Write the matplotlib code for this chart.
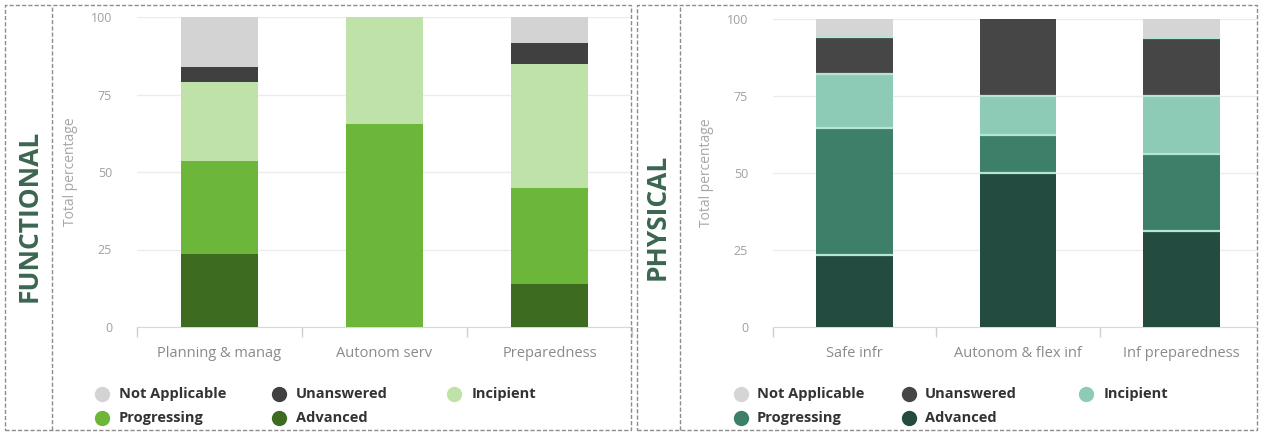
import matplotlib
matplotlib.use("Agg")
import matplotlib.pyplot as plt
from matplotlib.lines import Line2D
from matplotlib.patches import Rectangle

plt.rcParams['font.family'] = ['Open Sans', 'DejaVu Sans']

# ---------------- data ----------------
levels = ["Advanced", "Progressing", "Incipient", "Unanswered", "Not Applicable"]

func_categories = ["Planning & manag", "Autonom serv", "Preparedness"]
func_advanced = [23.5, 0, 14]
func_progressing = [30, 65.5, 31]
func_incipient = [25.5, 34.5, 40]
func_unanswered = [5, 0, 6.5]
func_not_applicable = [16, 0, 8.5]

phys_categories = ["Safe infr", "Autonom & flex inf", "Inf preparedness"]
phys_advanced = [23.5, 50, 31.25]
phys_progressing = [41.2, 12.5, 25]
phys_incipient = [17.6, 12.5, 18.75]
phys_unanswered = [11.8, 25, 18.75]
phys_not_applicable = [5.9, 0, 6.25]

func_colors = {"Advanced": "#3d6b20", "Progressing": "#6cb63a", "Incipient": "#bfe2a8",
               "Unanswered": "#404040", "Not Applicable": "#d3d3d3"}
phys_colors = {"Advanced": "#244b40", "Progressing": "#3d7f69", "Incipient": "#8ecbb6",
               "Unanswered": "#464646", "Not Applicable": "#d5d5d5"}

W, H = 1261, 432
BAR_W = 0.47
fig = plt.figure(figsize=(W / 100, H / 100), dpi=100)


def px_box(x0, y0, x1, y1):
    # pixel coords (top-left origin) -> figure fraction rect
    return [x0 / W, 1 - y1 / H, (x1 - x0) / W, (y1 - y0) / H]


def stacked(ax, cats, series, colors, sep=None):
    x = list(range(len(cats)))
    bottom = [0] * len(cats)
    for name, vals in zip(levels, series):
        ax.bar(x, vals, bottom=bottom, width=BAR_W, color=colors[name],
               linewidth=0, zorder=3)
        if sep is not None and name != levels[0]:
            # thin line between stacked segments
            for xi, b, v in zip(x, bottom, vals):
                if v > 0 and b > 0:
                    ax.hlines(b, xi - BAR_W / 2, xi + BAR_W / 2, color=sep,
                              linewidth=1.6, zorder=4)
        bottom = [b + v for b, v in zip(bottom, vals)]
    ax.set_ylim(0, 100)
    ax.set_yticks([0, 25, 50, 75, 100])
    ax.set_xticks(x)
    ax.set_xticklabels(cats, fontsize=10.5, color="#8a8a8a")
    ax.set_xticks([-0.5, 0.5, 1.5, 2.5], minor=True)
    ax.tick_params(axis="x", which="major", length=0, pad=14)
    ax.tick_params(axis="x", which="minor", length=7, color="#cfcfcf", width=1)
    ax.tick_params(axis="y", length=0, pad=18, labelsize=9, labelcolor="#a0a0a0")
    ax.grid(axis="y", color="#ececec", linewidth=1, zorder=0)
    for s in ["top", "right", "left"]:
        ax.spines[s].set_visible(False)
    ax.spines["bottom"].set_color("#d8d8d8")
    ax.set_ylabel("Total percentage", fontsize=10, color="#a6a6a6", labelpad=9)


ax1 = fig.add_axes(px_box(137, 17, 632, 327))
stacked(ax1, func_categories,
        [func_advanced, func_progressing, func_incipient, func_unanswered, func_not_applicable],
        func_colors)
ax1.set_xlim(-0.5, 2.5)

ax2 = fig.add_axes(px_box(773, 19, 1256, 327))
stacked(ax2, phys_categories,
        [phys_advanced, phys_progressing, phys_incipient, phys_unanswered, phys_not_applicable],
        phys_colors, sep="#b3e6d3")
ax2.set_xlim(-0.5, 2.457)


# legend: two rows, three columns
def legend(colors, marker_x, text_x):
    order = [["Not Applicable", "Unanswered", "Incipient"], ["Progressing", "Advanced"]]
    rows_y = [394, 418]
    for r, names in enumerate(order):
        for c, name in enumerate(names):
            fig.add_artist(Line2D([marker_x[c] / W], [1 - rows_y[r] / H], marker="o",
                                  markersize=10, color=colors[name], linestyle="none"))
            fig.text(text_x[c] / W, 1 - rows_y[r] / H, name, fontsize=10.5,
                     fontweight="bold", color="#333333", va="center", ha="left")


legend(func_colors, [102, 279, 454], [119, 296, 472])
legend(phys_colors, [741, 909, 1086], [757, 925, 1104])

# section titles
fig.text(29 / W, 1 - 216 / H, "FUNCTIONAL", rotation=90, fontsize=19, fontweight="bold",
         color="#3b6650", ha="center", va="center")
fig.text(657 / W, 1 - 217 / H, "PHYSICAL", rotation=90, fontsize=19, fontweight="bold",
         color="#3b6650", ha="center", va="center")

# dashed frames
for (x0, x1, xs) in [(5, 631, 52), (637, 1257, 680)]:
    fig.add_artist(Rectangle((x0 / W, 1 - 430 / H), (x1 - x0) / W, 425 / H,
                             transform=fig.transFigure, fill=False, edgecolor="#8c8c8c",
                             linewidth=1, linestyle=(0, (3, 1.5))))
    fig.add_artist(Line2D([xs / W, xs / W], [1 - 430 / H, 1 - 5 / H], color="#8c8c8c",
                          linewidth=1, linestyle=(0, (3, 1.5))))

fig.savefig("out.png", dpi=100)
